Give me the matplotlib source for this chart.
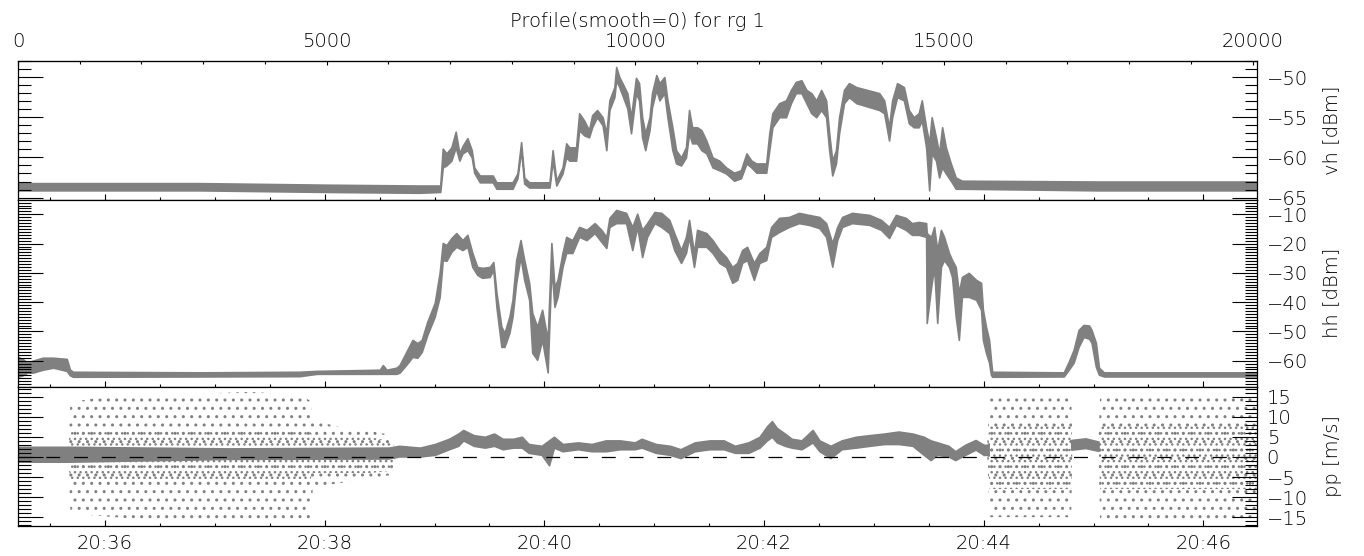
import numpy as np
import matplotlib
matplotlib.use('Agg')
import matplotlib.pyplot as plt
from matplotlib.ticker import MultipleLocator, FixedLocator

nan = float('nan')

# profile numbers (top axis) and envelopes of the gray point cloud
vh_prof = [0, 2940, 5050, 6500, 6840, 6880, 6940, 7020, 7090, 7150, 7200, 7280, 7350, 7390, 7480,
           7690, 7750, 8010, 8090, 8150, 8200, 8280, 8610, 8660, 8720, 8820, 8880, 8930, 9040, 9090,
           9170, 9250, 9300, 9380, 9470, 9530, 9580, 9660, 9690, 9740, 9790, 9870, 9930, 10010, 10060,
           10110, 10160, 10230, 10270, 10340, 10390, 10470, 10520, 10600, 10660, 10740, 10820, 10870,
           10920, 11000, 11070, 11150, 11250, 11360, 11470, 11600, 11710, 11800, 11880, 11960, 12120,
           12170, 12220, 12330, 12440, 12520, 12600, 12690, 12770, 12850, 12930, 13010, 13090, 13140,
           13190, 13250, 13300, 13380, 13460, 13580, 13950, 14030, 14110, 14160, 14240, 14350, 14430,
           14510, 14590, 14640, 14710, 14760, 14800, 14870, 14920, 14970, 15030, 15110, 15190, 15290,
           17510, 20070]
vh_hi = [-63.2, -63.2, -63.4, -63.5, -63.5, -58.9, -59.5, -58.75, -56.8, -59.5, -58.6, -57.6, -59.1,
         -61.25, -62.25, -62.25, -63.1, -63.1, -62.0, -58.1, -62.5, -63.1, -63.1, -59.1, -62.9, -61.25,
         -58.25, -58.75, -58.75, -54.5, -55.4, -56.6, -54.75, -54.1, -55.0, -57.0, -52.9, -51.25, -48.75,
         -50.0, -50.75, -52.0, -55.0, -50.1, -50.75, -55.0, -57.0, -55.0, -52.0, -49.75, -50.75, -50.0,
         -52.9, -56.25, -59.1, -60.0, -58.75, -54.1, -56.25, -56.25, -56.6, -57.9, -60.0, -60.4, -61.25,
         -61.9, -61.6, -59.5, -60.4, -60.75, -60.75, -57.0, -54.5, -53.25, -52.9, -51.6, -50.6, -50.4,
         -51.6, -52.0, -52.9, -51.6, -52.9, -57.0, -60.4, -59.1, -55.0, -51.6, -50.75, -51.25, -52.0,
         -52.9, -56.25, -52.9, -50.75, -51.25, -54.1, -55.0, -54.5, -52.9, -56.25, -58.25, -55.0, -57.5,
         -59.5, -56.25, -58.75, -60.75, -62.5, -62.9, -63.0, -63.0]
vh_lo = [-64.1, -64.1, -64.3, -64.4, -64.3, -61.25, -61.0, -60.4, -58.75, -60.4, -59.5, -59.1, -60.0,
         -61.9, -63.1, -63.1, -63.9, -63.9, -62.6, -59.1, -63.25, -63.75, -63.75, -60.4, -63.5, -62.0,
         -60.0, -60.4, -60.4, -56.6, -57.25, -57.5, -56.25, -55.0, -56.0, -59.1, -54.1, -52.5, -50.4,
         -51.25, -52.25, -53.9, -57.0, -52.0, -52.9, -57.5, -59.1, -56.6, -53.75, -51.6, -52.9, -52.0,
         -55.0, -59.1, -60.75, -61.0, -60.0, -57.0, -58.25, -58.25, -59.1, -59.5, -61.25, -61.6, -62.0,
         -62.9, -62.6, -60.75, -61.25, -61.9, -61.9, -59.1, -56.25, -55.0, -55.0, -53.25, -52.0, -52.0,
         -53.25, -54.5, -55.0, -54.1, -55.0, -59.1, -62.25, -60.75, -57.0, -53.25, -52.5, -53.25, -54.1,
         -54.5, -57.9, -55.0, -52.5, -52.9, -55.75, -56.25, -56.25, -55.4, -58.75, -64.1, -59.5, -60.4,
         -62.5, -61.25, -62.0, -62.9, -63.9, -63.9, -64.1, -64.1]

hh_prof = [0, 80, 150, 240, 400, 570, 790, 840, 890, 2940, 4560, 4840, 5860, 5910, 5970, 6130, 6180,
           6290, 6390, 6470, 6540, 6630, 6750, 6830, 6880, 6940, 7020, 7100, 7200, 7280, 7360, 7440,
           7520, 7640, 7700, 7750, 7830, 7880, 7960, 8010, 8070, 8140, 8200, 8280, 8330, 8410, 8490,
           8580, 8640, 8690, 8740, 8820, 8880, 8980, 9090, 9210, 9340, 9450, 9530, 9580, 9690, 9850,
           9950, 10030, 10110, 10190, 10310, 10420, 10550, 10630, 10740, 10820, 10870, 10950, 11000,
           11150, 11250, 11360, 11470, 11570, 11650, 11730, 11810, 11920, 12010, 12120, 12200, 12330,
           12490, 12650, 12810, 12980, 13090, 13190, 13270, 13350, 13510, 13790, 13980, 14110, 14220,
           14380, 14480, 14590, 14710, 14720, 14790, 14840, 14890, 14950, 15000, 15080, 15130, 15190,
           15240, 15290, 15400, 15520, 15600, 15630, 15680, 15730, 15760, 15780, 16940, 17020, 17100,
           17180, 17260, 17350, 17390, 17460, 17510, 17590, 20070]
hh_hi = [-58.7, -59.5, -60.7, -60.0, -59.0, -59.0, -59.4, -63.0, -63.8, -64.0, -63.8, -63.5, -63.1,
         -61.5, -63.1, -62.4, -61.5, -57.0, -52.9, -54.0, -52.9, -46.7, -40.3, -30.0, -19.8, -20.5,
         -18.1, -16.4, -18.8, -17.0, -23.2, -28.0, -28.3, -28.0, -26.3, -36.8, -48.4, -50.5, -45.0,
         -39.2, -25.6, -18.8, -25.6, -33.4, -43.7, -48.4, -42.6, -52.9, -19.8, -34.8, -32.4, -23.2,
         -17.7, -18.8, -14.3, -15.3, -13.0, -15.3, -17.7, -11.2, -8.5, -9.5, -14.3, -9.8, -15.3, -13.0,
         -9.2, -9.5, -11.9, -16.4, -22.2, -17.7, -11.9, -23.2, -15.3, -16.4, -18.8, -22.2, -24.6, -28.0,
         -26.6, -22.2, -21.1, -26.6, -23.2, -21.1, -14.3, -11.2, -10.9, -9.5, -10.2, -10.9, -13.0, -19.8,
         -14.3, -10.9, -9.5, -10.2, -11.9, -14.3, -10.2, -11.2, -13.0, -12.6, -13.0, -16.4, -17.7, -14.3,
         -22.2, -15.3, -17.7, -23.2, -25.6, -28.0, -36.8, -31.4, -30.0, -32.4, -33.4, -42.6, -48.4,
         -52.9, -59.7, -63.8, -64.0, -60.4, -56.3, -49.5, -47.8, -48.0, -49.5, -53.9, -62.4, -64.0, -64.0]
hh_lo = [-65.5, -65.0, -64.1, -64.1, -63.1, -62.4, -63.5, -65.0, -65.5, -65.4, -65.3, -64.5, -64.5,
         -64.5, -64.5, -64.5, -64.1, -61.4, -58.7, -59.0, -57.0, -51.2, -45.0, -38.2, -25.6, -25.9,
         -22.8, -21.1, -22.2, -21.1, -28.0, -30.7, -31.7, -31.4, -29.0, -41.6, -55.3, -55.3, -50.5,
         -45.0, -33.4, -24.6, -32.4, -39.2, -57.3, -59.7, -52.9, -64.0, -27.9, -41.6, -38.2, -28.0,
         -23.2, -23.2, -17.7, -18.8, -16.4, -19.4, -21.5, -14.3, -13.0, -13.0, -22.2, -14.3, -24.6,
         -17.7, -13.0, -14.3, -16.4, -22.2, -26.6, -23.2, -17.7, -28.0, -21.1, -21.1, -23.2, -26.6,
         -28.0, -33.4, -32.4, -26.6, -25.6, -32.4, -26.6, -25.6, -17.7, -16.0, -14.3, -13.0, -13.6,
         -14.7, -17.7, -27.9, -18.8, -14.3, -13.0, -13.6, -15.3, -18.1, -13.6, -15.3, -17.0, -17.0,
         -17.7, -47.1, -35.0, -28.0, -47.1, -28.0, -25.6, -28.0, -31.4, -45.0, -52.9, -38.2, -38.2,
         -39.2, -42.6, -52.9, -57.3, -60.7, -64.8, -65.5, -65.4, -63.1, -60.7, -55.3, -51.9, -52.5,
         -53.9, -62.1, -64.8, -65.4, -65.4]

# pp: narrow band where the velocity is coherent, nan where only noise
pp_prof = [0, 810, 3430, 6020, 6180, 6520, 6760, 6990, 7140, 7220, 7390, 7570, 7720, 7860, 8030,
           8170, 8280, 8490, 8610, 8690, 8830, 9080, 9300, 9530, 9760, 10000, 10110, 10340, 10570,
           10740, 10970, 11210, 11440, 11620, 11840, 12020, 12140, 12220, 12300, 12430, 12540, 12700,
           12880, 12990, 13170, 13350, 13580, 13800, 14040, 14270, 14500, 14680, 14790, 14900, 15080,
           15190, 15350, 15520, 15650, 15730, 16400, 17070, 17300, 17510, 18800]
pp_hi = [2.4, 2.4, 2.0, 2.2, 2.65, 2.2, 3.1, 4.4, 5.7, 6.6, 5.3, 4.9, 5.7, 4.4, 4.4, 4.9, 3.1, 2.65,
         4.0, 4.9, 3.1, 3.5, 3.1, 4.0, 4.0, 3.5, 4.4, 3.1, 2.65, 1.8, 3.5, 4.0, 4.0, 2.65, 3.5, 4.9,
         7.5, 8.8, 7.1, 5.7, 4.4, 4.0, 6.6, 4.0, 2.65, 4.0, 4.9, 5.3, 5.7, 6.2, 5.7, 4.9, 4.0, 3.5,
         2.65, 1.3, 2.9, 4.1, 2.9, 2.9, nan, 4.1, 4.5, 3.7, nan]
pp_lo = [-1.3, -1.3, -0.6, -0.5, 0.0, 0.0, 0.4, 1.8, 2.65, 4.0, 2.65, 2.2, 2.65, 1.8, 2.2, 2.2, 0.9,
         0.4, -2.2, 2.2, 1.3, 1.8, 1.3, 1.3, 1.8, 1.8, 2.2, 0.9, 0.4, -0.4, 1.3, 1.8, 1.8, 0.9, 0.9,
         2.2, 4.0, 4.9, 3.5, 2.65, 2.2, 1.8, 3.5, 1.3, -0.4, 1.8, 2.2, 2.65, 3.1, 3.1, 2.65, 0.4, -0.9,
         0.4, 0.0, -0.9, 0.4, 1.7, 0.4, 0.4, nan, 1.7, 2.1, 1.4, nan]

# pp noise clouds: outer extent and denser core
noise_prof = [810, 850, 1170, 2140, 2950, 3760, 4570, 4730, 4780, 5220, 5700, 6030, 6110, 10000,
              15700, 15740, 17060, 17080, 17300, 17500, 17530, 20070]
noise_hi = [2.5, 13.5, 14.5, 15.3, 15.8, 16.2, 15.5, 14.0, 9.0, 7.5, 6.5, 5.5, 2.5, nan,
            2.9, 15.7, 15.7, 4.1, nan, 3.7, 15.8, 15.8]
noise_lo = [-1.5, -13.5, -14.5, -15.7, -15.7, -15.7, -15.5, -15.5, -7.5, -6.5, -5.5, -4.5, -1.0, nan,
            0.4, -15.0, -15.0, 1.7, nan, 1.4, -15.8, -15.8]
core_hi = [2.5, 6.6, 6.6, 6.6, 6.6, 6.6, 6.6, 6.6, 4.9, 4.9, 4.9, 4.0, 2.5, nan,
           2.9, 8.0, 8.0, 4.1, nan, 3.7, 8.0, 8.0]
core_lo = [-1.5, -5.8, -5.8, -5.8, -5.8, -5.8, -5.8, -5.8, -4.0, -4.0, -4.0, -3.5, -1.0, nan,
           0.4, -8.0, -8.0, 1.7, nan, 1.4, -8.0, -8.0]

time_labels = ['20:36', '20:38', '20:40', '20:42', '20:44', '20:46']
prof_ticks = [0, 5000, 10000, 15000, 20000]

# time axis: profile number at 20:36 and profiles per minute
PROF_2036 = 1409
PROF_PER_MIN = 1779.3
XMAX = 20070

plt.rcParams['font.family'] = ['DejaVu Sans']
plt.rcParams['font.weight'] = 200
plt.rcParams['lines.scale_dashes'] = False
plt.rcParams['hatch.linewidth'] = 1.0
GRAY = '#808080'
FS = 14

W, H = 1364, 556
fig = plt.figure(figsize=(W / 100, H / 100), dpi=100)


def box(top, bottom):
    return [18 / W, 1 - bottom / H, (1257 - 18) / W, (bottom - top) / H]


ax1 = fig.add_axes(box(61, 200))
ax2 = fig.add_axes(box(200, 386.7))
ax3 = fig.add_axes(box(386.7, 526))

time_major = [PROF_2036 + m * PROF_PER_MIN for m in range(0, 11, 2)]
time_minor = [PROF_2036 + m * 0.5 * PROF_PER_MIN for m in range(-1, 22)]

ax1.fill_between(vh_prof, vh_lo, vh_hi, facecolor=GRAY, edgecolor=GRAY, lw=1.2)
ax2.fill_between(hh_prof, hh_lo, hh_hi, facecolor=GRAY, edgecolor=GRAY, lw=1.2)
ax3.fill_between(noise_prof, noise_lo, noise_hi, facecolor='none', edgecolor=GRAY, hatch='..', lw=0)
ax3.fill_between(noise_prof, core_lo, core_hi, facecolor='none', edgecolor=GRAY, hatch='...', lw=0)
ax3.fill_between(pp_prof, pp_lo, pp_hi, facecolor=GRAY, edgecolor=GRAY, lw=1.2)
ax3.axhline(0, color='k', lw=0.9, dashes=(10, 10), zorder=5)

ax1.set_ylim(-65.3, -48)
ax2.set_ylim(-68.9, -5.1)
ax3.set_ylim(-17.2, 17.5)
steps = {ax1: 5, ax2: 10, ax3: 5}

for ax in (ax1, ax2, ax3):
    ax.set_xlim(0, XMAX)
    ax.xaxis.set_major_locator(FixedLocator(time_major))
    ax.xaxis.set_minor_locator(FixedLocator(time_minor))
    ax.yaxis.set_major_locator(MultipleLocator(steps[ax]))
    ax.yaxis.set_minor_locator(MultipleLocator(1))
    ax.tick_params(axis='x', which='both', direction='in', bottom=True, top=False,
                   labelbottom=False, width=0.8, labelsize=FS, pad=6)
    ax.tick_params(axis='x', which='major', length=4.3)
    ax.tick_params(axis='x', which='minor', length=2.2)
    ax.tick_params(axis='y', which='both', direction='in', left=True, right=True,
                   labelleft=False, labelright=True, width=0.8, labelsize=FS, pad=7)
    ax.tick_params(axis='y', which='major', length=18)
    ax.tick_params(axis='y', which='minor', length=9)
    for s in ax.spines.values():
        s.set_linewidth(0.9)

ax3.set_xticks(time_major, time_labels)
ax3.tick_params(axis='x', labelbottom=True)

top = ax1.secondary_xaxis('top')
top.set_xticks(prof_ticks)
top.xaxis.set_minor_locator(MultipleLocator(1000))
top.tick_params(axis='x', which='both', direction='in', width=0.8, labelsize=FS, pad=7)
top.tick_params(axis='x', which='major', length=2.6)
top.tick_params(axis='x', which='minor', length=1.8)

fig.text(637.5 / W, 1 - 26.7 / H, 'Profile(smooth=0) for rg 1', ha='center', va='baseline', fontsize=FS)
fig.text(1332 / W, 1 - 130.5 / H, 'vh [dBm]', rotation=90, ha='center', va='center', fontsize=FS)
fig.text(1332 / W, 1 - 293.3 / H, 'hh [dBm]', rotation=90, ha='center', va='center', fontsize=FS)
fig.text(1332 / W, 1 - 456.3 / H, 'pp [m/s]', rotation=90, ha='center', va='center', fontsize=FS)

fig.savefig('out.png', dpi=100)
